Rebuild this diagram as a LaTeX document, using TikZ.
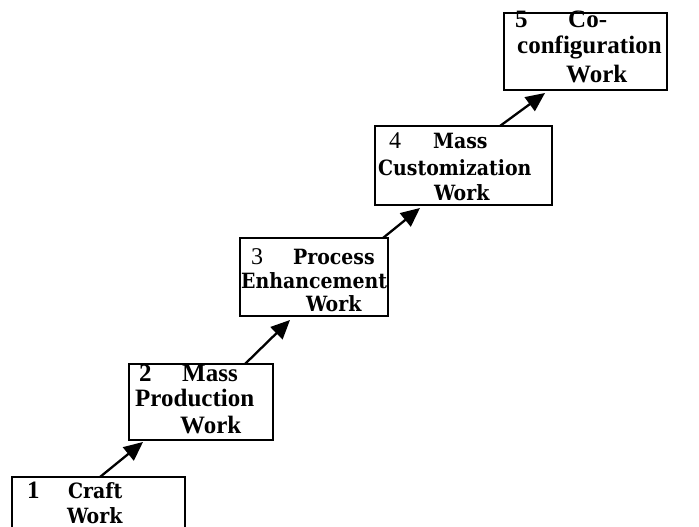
\documentclass[tikz,border=0pt]{standalone}
\usepackage{fontspec}
\setmainfont{Liberation Serif}
\newfontfamily\slab{DejaVu Serif Condensed}
\usetikzlibrary{arrows.meta}
\begin{document}
\begin{tikzpicture}[x=1pt,y=-1pt,
  box/.style={draw=black, line width=2.3pt, outer sep=0pt, inner sep=0pt, anchor=north west},
  arr/.style={line width=2.3pt, -{Triangle[length=19pt,width=17pt]}},
  tnr/.style={anchor=base west, inner sep=0pt, font=\fontsize{25}{28}\selectfont\bfseries},
  slb/.style={anchor=base west, inner sep=0pt, font=\fontsize{21}{24}\selectfont\slab\bfseries},
  dig/.style={anchor=base west, inner sep=0pt, font=\fontsize{24}{26}\selectfont}]
\useasboundingbox (0,0) rectangle (699,527);
\clip (0,0) rectangle (699,527);
% boxes
\node[box, minimum width=173pt, minimum height=70pt] (b1) at (12,477) {};
\node[box, minimum width=144pt, minimum height=76pt] (b2) at (129,364) {};
\node[box, minimum width=148pt, minimum height=78pt] (b3) at (240,238) {};
\node[box, minimum width=177pt, minimum height=79pt] (b4) at (375,126) {};
\node[box, minimum width=163pt, minimum height=77pt] (b5) at (504,13) {};
% texts box 1
\node[tnr] (t1n) at (27,498) {1};
\node[slb] (t1a) at (68,498) {Craft};
\node[slb] (t1b) at (67,523) {Work};
% box 2
\node[tnr] (t2n) at (139,381) {2};
\node[tnr] (t2a) at (182,381) {Mass};
\node[tnr] (t2b) at (135,406) {Production};
\node[tnr] (t2c) at (180,433) {Work};
% box 3
\node[dig] (t3n) at (251,264) {3};
\node[slb] (t3a) at (293,264) {Process};
\node[slb] (t3b) at (241,288) {Enhancement};
\node[slb] (t3c) at (306,311) {Work};
% box 4
\node[dig] (t4n) at (389,148) {4};
\node[slb] (t4a) at (433,148) {Mass};
\node[slb] (t4b) at (378,175) {Customization};
\node[slb] (t4c) at (434,200) {Work};
% box 5
\node[tnr] (t5n) at (515,28) {5};
\node[tnr] (t5a) at (568,28) {Co-};
\node[tnr] (t5b) at (517,54) {configuration};
\node[tnr] (t5c) at (566,82) {Work};
% arrows
\draw[arr] ([xshift=88pt]b1.north west) -- ([xshift=14pt,yshift=-2pt]b2.south west);
\draw[arr] ([xshift=116pt]b2.north west) -- ([xshift=50pt,yshift=-4pt]b3.south west);
\draw[arr] ([xshift=143pt]b3.north west) -- ([xshift=45pt,yshift=-3pt]b4.south west);
\draw[arr] ([xshift=125pt]b4.north west) -- ([xshift=41pt,yshift=-3pt]b5.south west);
\end{tikzpicture}
\end{document}
